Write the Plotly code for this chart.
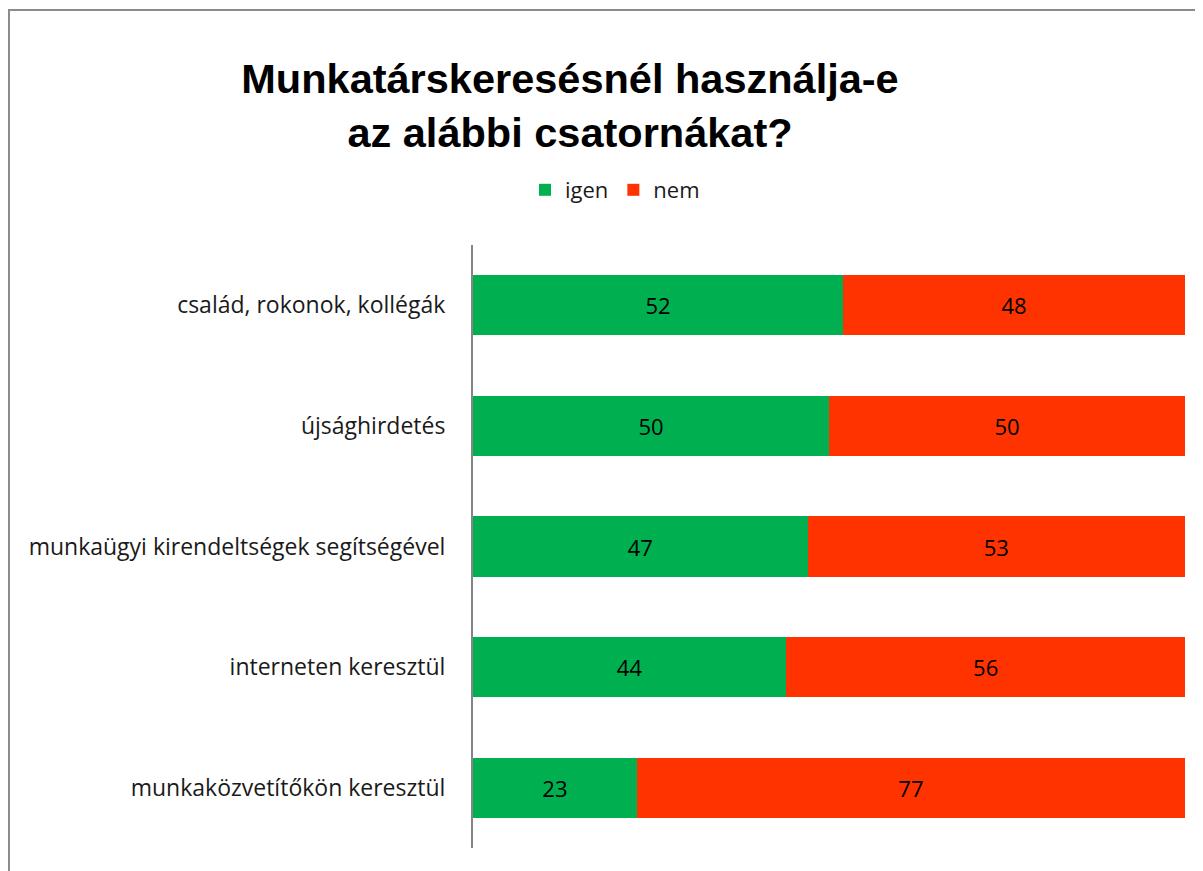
import plotly.graph_objects as go

categories = [
    "család, rokonok, kollégák",
    "újsághirdetés",
    "munkaügyi kirendeltségek segítségével",
    "interneten keresztül",
    "munkaközvetítőkön keresztül",
]
igen = [52, 50, 47, 44, 23]
nem = [48, 50, 53, 56, 77]

# page body has an 8px margin; work in figure pixels = reference pixels - 8
OFF = 8
W, H = 1203 - OFF, 871 - OFF
ml, mr, mt, mb = 473 - OFF, 18, 245 - OFF, 23
pw, ph = W - ml - mr, H - mt - mb

fig = go.Figure()
fig.add_trace(go.Bar(y=categories, x=igen, name="igen", orientation="h",
                     marker=dict(color="#00B050", line=dict(width=0)),
                     text=igen, textposition="inside", insidetextanchor="middle",
                     textfont=dict(size=22, color="#000000"), textangle=0))
fig.add_trace(go.Bar(y=categories, x=nem, name="nem", orientation="h",
                     marker=dict(color="#FF3300", line=dict(width=0)),
                     text=nem, textposition="inside", insidetextanchor="middle",
                     textfont=dict(size=22, color="#000000"), textangle=0))

def px_x(p):
    return (p - OFF - ml) / pw

def px_y(p):
    return (H - mb - (p - OFF)) / ph

fig.update_layout(
    width=W, height=H,
    margin=dict(l=ml, r=mr, t=mt, b=mb),
    barmode="stack", bargap=0.5,
    paper_bgcolor="white", plot_bgcolor="white",
    font=dict(family="Open Sans, Liberation Sans, sans-serif", size=20, color="#1a1a1a"),
    title=dict(text="<b>Munkatárskeresésnél használja-e<br>az alábbi csatornákat?</b>",
               x=(570 - OFF) / W, xanchor="center", xref="container",
               y=1 - (93 - OFF) / H, yanchor="middle", yref="container",
               font=dict(family="Liberation Sans, Arial, sans-serif", size=41.5, color="#000000")),
    legend=dict(orientation="h", x=(615 - OFF) / W, xref="container", xanchor="center",
                y=1 - (190 - OFF) / H, yref="container", yanchor="middle",
                font=dict(size=22), itemwidth=30, traceorder="normal"),
    xaxis=dict(range=[0, 100], showgrid=False, showticklabels=False, zeroline=False,
               showline=False, fixedrange=True),
    yaxis=dict(autorange="reversed", showgrid=False, showline=True, linecolor="#868686",
               linewidth=2, ticks="", ticklabelstandoff=21,
               tickfont=dict(size=23, color="#1a1a1a")),
    shapes=[dict(type="rect", xref="paper", yref="paper",
                 x0=px_x(9), x1=px_x(1230), y0=px_y(900), y1=px_y(10),
                 line=dict(color="#8c8c8c", width=2), fillcolor="rgba(0,0,0,0)", layer="below")],
)

fig.write_html("out.html")
